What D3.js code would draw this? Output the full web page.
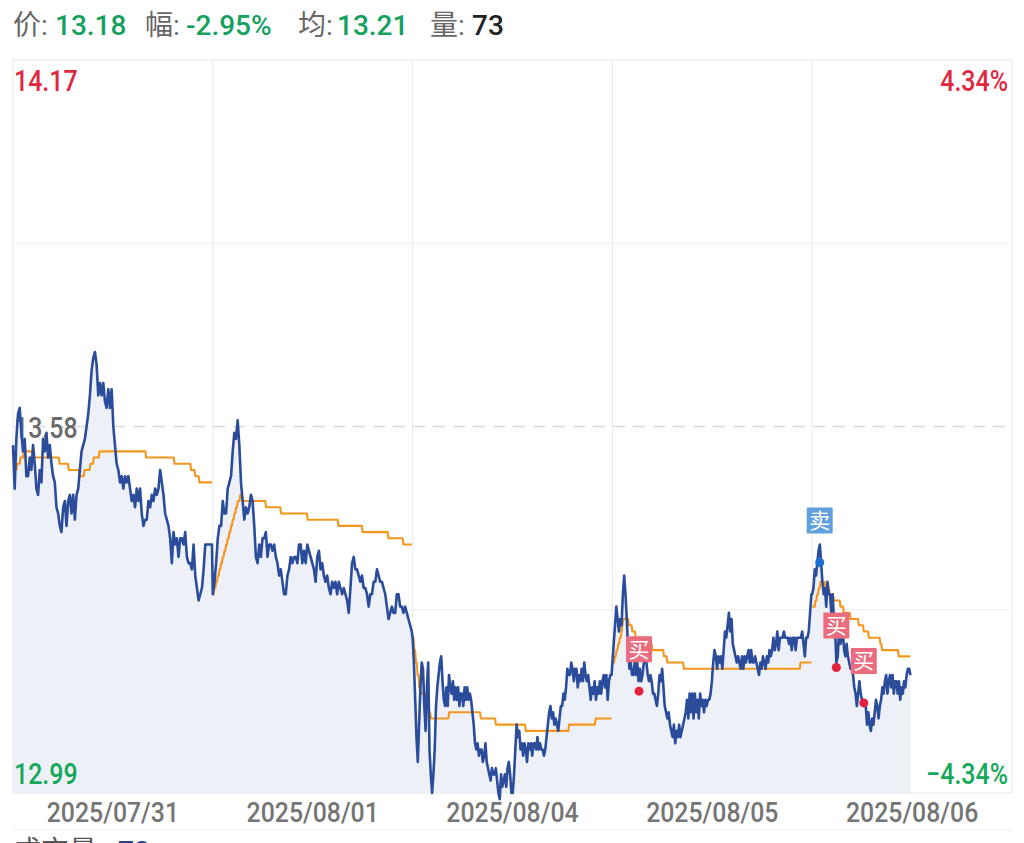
<!DOCTYPE html>
<html><head><meta charset="utf-8">
<script src="https://cdn.jsdelivr.net/npm/d3@7"></script>
<style>html,body{margin:0;padding:0;background:#fff;overflow:hidden}svg{display:block}</style>
</head><body>
<svg id="chart" width="1024" height="843"></svg>
<script>
// ---------------- data ----------------
const dayLabels = ["2025/07/31","2025/08/01","2025/08/04","2025/08/05","2025/08/06"];

const price0731 = [
13.55,13.48,13.56,13.60,13.61,13.57,13.54,13.56,13.50,13.50,
13.53,13.51,13.55,13.52,13.48,13.47,13.51,13.49,13.56,13.54,
13.57,13.53,13.55,13.52,13.50,13.49,13.45,13.44,13.42,13.41,
13.45,13.46,13.42,13.46,13.47,13.44,13.47,13.43,13.47,13.48,
13.51,13.54,13.55,13.56,13.58,13.60,13.63,13.67,13.69,13.70,
13.68,13.63,13.65,13.63,13.65,13.62,13.61,13.64,13.61,13.64,
13.58,13.55,13.52,13.51,13.49,13.50,13.48,13.50,13.49,13.50,
13.48,13.46,13.47,13.45,13.48,13.46,13.48,13.44,13.42,13.43,
13.43,13.46,13.45,13.47,13.46,13.48,13.47,13.48,13.51,13.49,
13.47,13.44,13.43,13.42,13.40,13.36,13.41,13.39,13.40,13.37,
13.40,13.40,13.39,13.41,13.37,13.36,13.36,13.35,13.39,13.34,
13.32,13.30,13.31,13.32,13.35,13.39,13.39,13.39,13.39,13.39];

const price0801 = [
13.31,13.33,13.36,13.40,13.42,13.42,13.46,13.44,13.44,13.48,
13.49,13.50,13.54,13.57,13.56,13.59,13.55,13.49,13.46,13.43,
13.45,13.44,13.45,13.47,13.46,13.42,13.37,13.36,13.39,
13.37,13.40,13.40,13.41,13.37,13.39,13.39,13.38,13.39,13.37,
13.36,13.34,13.35,13.33,13.31,13.31,13.34,13.35,13.37,13.36,
13.37,13.37,13.36,13.39,13.39,13.36,13.38,13.36,13.39,13.38,
13.37,13.36,13.35,13.33,13.37,13.38,13.35,13.36,13.34,13.33,
13.34,13.32,13.31,13.33,13.32,13.33,13.31,13.33,13.32,13.31,
13.32,13.31,13.30,13.28,13.32,13.36,13.37,13.35,13.35,13.34,
13.33,13.34,13.32,13.32,13.31,13.29,13.31,13.31,13.33,13.33,
13.35,13.34,13.33,13.33,13.32,13.31,13.29,13.27,13.28,13.29,
13.28,13.28,13.31,13.31,13.29,13.29,13.28,13.29,13.28,13.27,
13.26,13.25];

const price0804 = [
13.24,13.20,13.14,13.08,13.04,13.10,13.16,13.20,13.19,13.13,
13.09,13.16,13.20,13.06,13.02,12.99,13.02,13.06,13.13,13.16,
13.18,13.20,13.21,13.17,13.14,13.13,13.16,13.13,13.18,13.16,
13.15,13.17,13.14,13.16,13.14,13.16,13.13,13.15,13.15,13.13,
13.16,13.14,13.16,13.14,13.15,13.14,13.12,13.10,13.07,13.06,
13.07,13.05,13.06,13.06,13.04,13.05,13.07,13.04,13.03,13.02,
13.01,13.03,13.02,13.02,13.03,13.01,12.99,12.98,13.02,13.00,
13.01,13.02,13.00,13.03,13.04,13.02,12.99,12.99,13.02,13.06,
13.10,13.08,13.09,13.06,13.07,13.05,13.07,13.06,13.04,13.07,
13.06,13.07,13.05,13.07,13.07,13.06,13.08,13.06,13.07,13.06,
13.06,13.05,13.06,13.08,13.10,13.12,13.13,13.11,13.12,13.10,
13.11,13.10,13.09,13.11,13.13,13.13,13.15,13.14,13.16,13.19,
13.18,13.18,13.20,13.19,13.17,13.19,13.19,13.16,13.18,13.17,
13.19,13.17,13.20,13.18,13.17,13.18,13.16,13.14,13.16,13.15,
13.17,13.14,13.16,13.15,13.17,13.15,13.17,13.18,13.16,13.18,
13.14,13.17,13.18,13.18];

const price0805 = [
13.20,13.23,13.26,13.29,13.27,13.25,13.27,13.26,13.31,13.34,
13.31,13.27,13.22,13.19,13.20,13.18,13.18,13.20,13.18,13.20,
13.17,13.19,13.17,13.18,13.20,13.21,13.20,13.18,13.17,13.18,
13.17,13.15,13.15,13.14,13.13,13.15,13.18,13.17,13.19,13.16,
13.13,13.12,13.11,13.12,13.10,13.09,13.08,13.10,13.07,13.09,
13.08,13.10,13.08,13.09,13.10,13.11,13.12,13.14,13.11,13.15,
13.12,13.15,13.11,13.15,13.12,13.14,13.11,13.15,13.13,13.14,
13.12,13.14,13.13,13.14,13.14,13.15,13.17,13.20,13.22,13.21,
13.19,13.21,13.20,13.21,13.19,13.22,13.25,13.24,13.26,13.28,
13.25,13.27,13.23,13.22,13.21,13.20,13.21,13.20,13.19,13.21,
13.19,13.21,13.20,13.21,13.22,13.20,13.22,13.20,13.20,13.21,
13.20,13.19,13.18,13.20,13.19,13.21,13.20,13.19,13.21,13.20,
13.22,13.21,13.22,13.24,13.22,13.23,13.25,13.22,13.24,13.24,
13.24,13.25,13.24,13.24,13.24,13.23,13.24,13.22,13.24,13.24,
13.22,13.24,13.24,13.24,13.24,13.25,13.23,13.21,13.24,13.24,
13.25,13.28,13.31];

const price0806 = [
13.31,13.32,13.35,13.34,13.36,13.38,13.39,13.36,13.33,13.31,
13.32,13.29,13.33,13.31,13.31,13.28,13.31,13.27,13.25,13.20,
13.21,13.25,13.23,13.24,13.25,13.22,13.21,13.23,13.21,13.20,
13.19,13.19,13.18,13.16,13.15,13.13,13.15,13.17,13.15,13.14,
13.14,13.13,13.13,13.10,13.12,13.10,13.09,13.11,13.10,13.12,
13.14,13.13,13.11,13.13,13.14,13.16,13.15,13.17,13.18,13.15,
13.17,13.18,13.16,13.18,13.15,13.17,13.17,13.15,13.17,13.14,
13.16,13.15,13.17,13.16,13.18,13.19,13.19,13.18];

// average-price line: [minute of session, value] breakpoints
const avg0731 = [[0,13.50],[2,13.51],[5,13.52],[9,13.53],[13,13.54],[24,13.53],[56,13.52],[67,13.51],[80,13.50],[86,13.51],[93,13.52],[97,13.53],[104,13.54],[160,13.53],[194,13.52],[214,13.51],[219,13.50],[224,13.49]];
const avg0801 = [[0,13.31],[2,13.32],[4,13.33],[6,13.34],[8,13.35],[10,13.36],[12,13.37],[14,13.38],[16,13.39],[18,13.40],[20,13.41],[22,13.42],[24,13.43],[26,13.44],[28,13.45],[30,13.46],[33,13.47],[36,13.46],[64,13.45],[82,13.44],[114,13.43],[151,13.42],[180,13.41],[211,13.40],[229,13.39]];
const avg0804 = [[0,13.24],[2,13.22],[4,13.20],[6,13.18],[8,13.16],[10,13.15],[16,13.14],[18,13.13],[20,13.12],[22,13.11],[44,13.12],[82,13.11],[100,13.10],[136,13.09],[188,13.10],[220,13.11]];
const avg0805 = [[0,13.20],[3,13.21],[5,13.22],[7,13.23],[9,13.24],[11,13.25],[12,13.26],[13,13.27],[20,13.26],[24,13.25],[28,13.24],[44,13.23],[48,13.22],[62,13.21],[66,13.20],[86,13.19],[226,13.20]];
const avg0806 = [[0,13.29],[4,13.30],[6,13.31],[8,13.32],[10,13.33],[16,13.32],[21,13.31],[26,13.30],[34,13.29],[38,13.28],[46,13.27],[56,13.26],[62,13.25],[68,13.24],[82,13.23],[84,13.22],[104,13.21]];

const sessionLength = [239,239,239,239,118];
const yTicks = [14.17, 13.875, 13.58, 13.285, 12.99];
const prevClose = 13.58;

const tradeTypes = ["买","卖","买","买"];
const tradeDays = [3,4,4,4];
const tradeMinutes = [32,9,29,62];
const tradePrices = [13.154,13.361,13.192,13.135];

const headerLabels = ["价:","幅:","均:","量:"];
const headerValues = ["13.18","-2.95%","13.21","73"];
const volumeLabel = "成交量:";
const volumeValue = "73";

// ---------------- drawing ----------------
const priceDays = [price0731,price0801,price0804,price0805,price0806];
const avgDays = [avg0731,avg0801,avg0804,avg0805,avg0806];
const svg = d3.select("#chart");
const L = 13, R = 1012, T = 60, B = 793;
const x = d3.scaleLinear().domain([0, 240*dayLabels.length]).range([L, R]);
const y = d3.scaleLinear().domain([yTicks[yTicks.length-1], yTicks[0]]).range([B, T]);
const band = d3.scaleBand().domain(dayLabels).range([L, R]);
const FONT = "Roboto, 'Noto Sans CJK SC', sans-serif";

// grid
const grid = svg.append("g");
grid.append("rect").attr("x",L).attr("y",T).attr("width",R-L).attr("height",B-T)
  .attr("fill","none").attr("stroke","#ececec").attr("stroke-width",1.2);
grid.selectAll("line.v").data(dayLabels.slice(1)).join("line")
  .attr("x1",d=>band(d)).attr("x2",d=>band(d)).attr("y1",T).attr("y2",B)
  .attr("stroke","#ececec").attr("stroke-width",1.2);
grid.selectAll("line.h").data(yTicks.slice(1,-1)).join("line")
  .attr("x1",L).attr("x2",R).attr("y1",d=>y(d)).attr("y2",d=>y(d))
  .attr("stroke",d=>d===prevClose?"#d9d9d9":"#ececec")
  .attr("stroke-width",d=>d===prevClose?1.5:1.2)
  .attr("stroke-dasharray",d=>d===prevClose?"12,8":null);
svg.append("line").attr("x1",L).attr("x2",R).attr("y1",830).attr("y2",830)
  .attr("stroke","#ececec").attr("stroke-width",1.2);

// series points
const pts = [];
priceDays.forEach((arr,d)=>arr.forEach((v,i)=>pts.push({t:d*240 + i/(arr.length-1)*sessionLength[d], v})));

svg.append("path").datum(pts)
  .attr("d", d3.area().x(d=>x(d.t)).y0(y(yTicks[yTicks.length-1])).y1(d=>y(d.v)))
  .attr("fill","#eef0f7");

// scaled text helper
function label(g, txt, px, py, size, sx, anchor, color, weight){
  const gg = g.append("g").attr("transform",`translate(${px},${py}) scale(${sx},1)`);
  gg.append("text").text(txt).attr("font-family",FONT).attr("font-size",size)
    .attr("font-weight",weight||500).attr("text-anchor",anchor).attr("fill",color);
}
const labels = svg.append("g");
label(labels, d3.format(".2f")(prevClose), 14, y(prevClose)+11, 29, 0.86, "start", "#6a6a6a");

// average line (minute-sampled look: each change happens over one minute)
avgDays.forEach((arr,d)=>{
  const p = [{t:d*240+arr[0][0], v:arr[0][1]}];
  for(let i=1;i<arr.length;i++){
    p.push({t:d*240+arr[i][0]-1, v:arr[i-1][1]});
    p.push({t:d*240+arr[i][0], v:arr[i][1]});
  }
  p.push({t:d*240+sessionLength[d], v:arr[arr.length-1][1]});
  svg.append("path").datum(p)
    .attr("d", d3.line().x(q=>x(q.t)).y(q=>y(q.v)))
    .attr("fill","none").attr("stroke","#f5961c").attr("stroke-width",2.1)
    .attr("stroke-linejoin","round");
});

// price line
svg.append("path").datum(pts)
  .attr("d", d3.line().x(d=>x(d.t)).y(d=>y(d.v)))
  .attr("fill","none").attr("stroke","#2a4c9b").attr("stroke-width",2.6)
  .attr("stroke-linejoin","round");

// y labels
const pct = v => d3.format(".2f")((v/prevClose-1)*100) + "%";
label(labels, d3.format(".2f")(yTicks[0]), 14, 91, 29, 0.86, "start", "#e0283f");
label(labels, pct(yTicks[0]), 1008, 91, 29, 0.86, "end", "#e0283f");
label(labels, d3.format(".2f")(yTicks[yTicks.length-1]), 14, 784, 29, 0.86, "start", "#16a85a");
label(labels, pct(yTicks[yTicks.length-1]), 1008, 784, 29, 0.86, "end", "#16a85a");

// x labels
dayLabels.forEach(dl=>{
  label(labels, dl, band(dl)+band.bandwidth()/2, 822, 27, 0.92, "middle", "#757575");
});

// trades
const trades = tradeTypes.map((t,i)=>({type:t, t:tradeDays[i]*240+tradeMinutes[i], v:tradePrices[i]}));
const tg = svg.append("g");
trades.forEach(tr=>{
  const cx = x(tr.t), cy = y(tr.v);
  const buy = tr.type === "买";
  tg.append("circle").attr("cx",cx).attr("cy",cy).attr("r",4.5)
    .attr("fill", buy ? "#e3213f" : "#1b6fd3");
  tg.append("rect").attr("x",cx-13).attr("y",cy-55).attr("width",26).attr("height",26).attr("rx",1)
    .attr("fill", buy ? "#ea6c7f" : "#60a0dc");
  tg.append("text").text(tr.type).attr("x",cx).attr("y",cy-34.5)
    .attr("text-anchor","middle").attr("font-family","'Noto Sans CJK SC', sans-serif")
    .attr("font-size",21).attr("fill","#ffffff");
});

// header
const hx = [13,145,298,430], vx = [55,186,337,472];
const valueColors = ["#14a160","#14a160","#14a160","#222222"];
headerLabels.forEach((h,i)=>{
  svg.append("text").text(h).attr("x",hx[i]).attr("y",35).attr("font-family",FONT)
    .attr("font-size",28).attr("fill","#666666");
  svg.append("text").text(headerValues[i]).attr("x",vx[i]).attr("y",35).attr("font-family",FONT)
    .attr("font-size",28).attr("font-weight",500).attr("fill",valueColors[i]);
});

// volume caption (cut by the bottom edge, as in the original)
svg.append("text").text(volumeLabel).attr("x",13).attr("y",861).attr("font-family",FONT)
  .attr("font-size",28).attr("fill","#555555");
svg.append("text").text(volumeValue).attr("x",118).attr("y",861).attr("font-family",FONT)
  .attr("font-size",28).attr("font-weight",500).attr("fill","#2b3f8c");
</script>
</body></html>
